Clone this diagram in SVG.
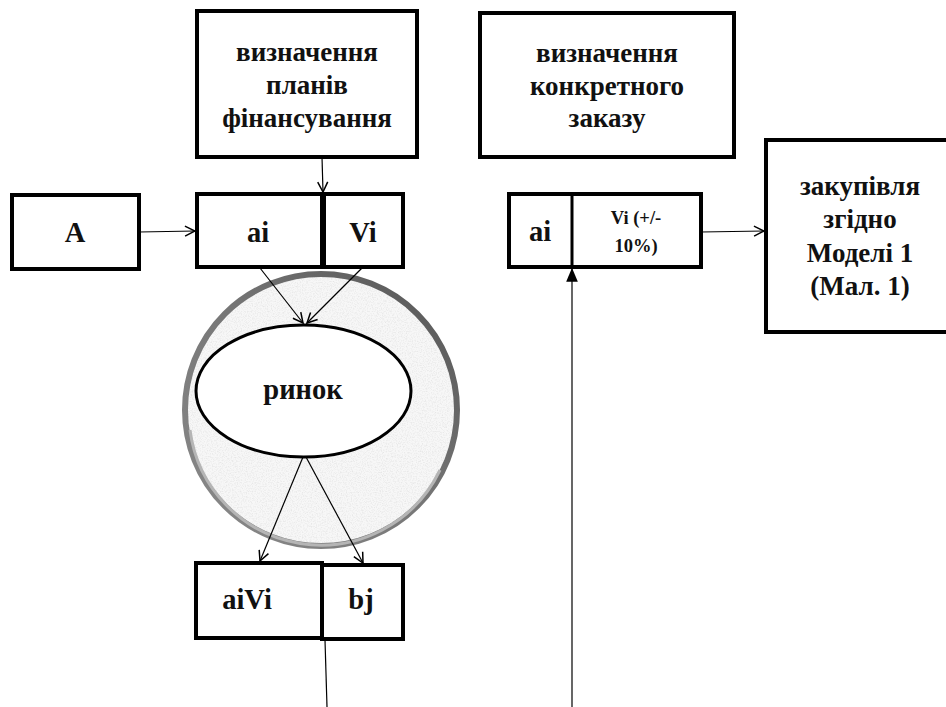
<svg xmlns="http://www.w3.org/2000/svg" width="946" height="707" viewBox="0 0 946 707">
<style>
.box{fill:#fff;stroke:#000;stroke-width:4}
text{font-family:'Liberation Serif','Times New Roman',serif;font-weight:700;fill:#111;text-anchor:middle}
.big{font-size:27px}
.lbl{font-size:28.5px}
.sm{font-size:18.5px}
.ln{stroke:#000;stroke-width:1.2;fill:none}
</style>
<defs>
<marker id="open" viewBox="0 0 12 12" refX="11" refY="6" markerWidth="12" markerHeight="12" markerUnits="userSpaceOnUse" orient="auto">
<path d="M1,1 L11,6 L1,11" fill="none" stroke="#000" stroke-width="1.5"/>
</marker>
<marker id="solid" viewBox="0 0 12 12" refX="11" refY="6" markerWidth="14" markerHeight="14" markerUnits="userSpaceOnUse" orient="auto">
<path d="M0,1 L12,6 L0,11 Z" fill="#000"/>
</marker>
<linearGradient id="ring" x1="1" y1="0" x2="0" y2="1">
<stop offset="0" stop-color="#555"/>
<stop offset="0.5" stop-color="#777"/>
<stop offset="1" stop-color="#8a8a8a"/>
</linearGradient>
<filter id="speck" x="0" y="0" width="1" height="1">
<feTurbulence type="fractalNoise" baseFrequency="0.8" numOctaves="2" seed="3" result="n"/>
<feColorMatrix in="n" type="matrix" values="0 0 0 0 0.78  0 0 0 0 0.78  0 0 0 0 0.78  0 0 0 -2.2 1.25" result="s"/>
<feComposite in="s" in2="SourceGraphic" operator="in" result="c"/>
<feMerge><feMergeNode in="SourceGraphic"/><feMergeNode in="c"/></feMerge>
</filter>
</defs>

<g id="node-plans">
<rect class="box" x="197" y="11" width="220" height="146"/>
<text class="big" x="307" y="61">визначення</text>
<text class="big" x="307" y="94">планів</text>
<text class="big" x="307" y="127">фінансування</text>
</g>

<g id="node-A">
<rect class="box" x="12" y="195" width="127" height="74"/>
<text class="lbl" x="75" y="242">A</text>
</g>

<g id="node-aiVi-left">
<rect class="box" x="197" y="194" width="206" height="73"/>
<line x1="323" y1="194" x2="323" y2="267" stroke="#000" stroke-width="6"/>
<text class="lbl" x="258" y="242">ai</text>
<text class="lbl" x="363" y="242">Vi</text>
</g>

<g id="node-market">
<circle cx="321" cy="410" r="136" fill="#f7f7f7" filter="url(#speck)"/>
<circle cx="321" cy="410" r="136" fill="none" stroke="url(#ring)" stroke-width="6"/>
<path d="M190,430 A132,132 0 0 0 440,470" fill="none" stroke="#b5b5b5" stroke-width="3"/>
<ellipse cx="303.5" cy="391" rx="107.5" ry="66" fill="#fff" stroke="#000" stroke-width="3"/>
<text class="lbl" x="303" y="399">ринок</text>
</g>

<g id="node-aiVi-bottom">
<rect class="box" x="196" y="563" width="126" height="75"/>
<text class="lbl" x="247" y="609">aiVi</text>
</g>

<g id="node-bj">
<rect class="box" x="322" y="565" width="81" height="74"/>
<text class="lbl" x="361" y="609">bj</text>
</g>

<g id="node-order">
<rect class="box" x="480" y="13" width="254" height="144"/>
<text class="big" x="607" y="62">визначення</text>
<text class="big" x="607" y="95">конкретного</text>
<text class="big" x="607" y="127">заказу</text>
</g>

<g id="node-aiVi-right">
<rect class="box" x="509" y="194" width="192" height="73"/>
<line x1="572" y1="194" x2="572" y2="267" stroke="#000" stroke-width="3"/>
<text class="lbl" x="540" y="241">ai</text>
<text class="sm" x="636" y="224">Vi (+/-</text>
<text class="sm" x="636" y="252">10%)</text>
</g>

<g id="node-purchase">
<rect class="box" x="766" y="140" width="182" height="192"/>
<text class="big" x="860" y="195">закупівля</text>
<text class="big" x="860" y="228">згідно</text>
<text class="big" x="860" y="262">Моделі 1</text>
<text class="big" x="860" y="295">(Мал. 1)</text>
</g>

<g id="connectors">
<line class="ln" x1="322" y1="157" x2="323" y2="192" marker-end="url(#open)"/>
<line class="ln" x1="139" y1="232" x2="195" y2="231" marker-end="url(#open)"/>
<line class="ln" x1="260" y1="268" x2="303" y2="323" marker-end="url(#open)"/>
<line class="ln" x1="362" y1="268" x2="307" y2="323" marker-end="url(#open)"/>
<line class="ln" x1="303" y1="457" x2="260" y2="561" marker-end="url(#open)"/>
<line class="ln" x1="306" y1="457" x2="363" y2="563" marker-end="url(#open)"/>
<line class="ln" x1="325" y1="640" x2="327" y2="707"/>
<line class="ln" x1="701" y1="232" x2="764" y2="231" marker-end="url(#open)"/>
<line class="ln" x1="572" y1="707" x2="572" y2="269" marker-end="url(#solid)"/>
</g>
</svg>
